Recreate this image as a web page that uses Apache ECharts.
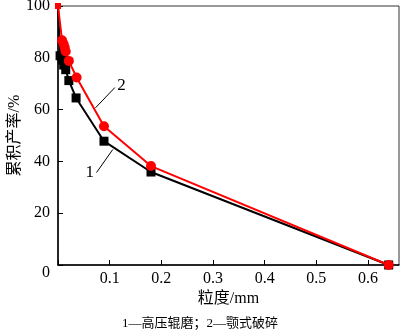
<!DOCTYPE html>
<html><head><meta charset="utf-8">
<script src="https://cdn.jsdelivr.net/npm/echarts@6/dist/echarts.min.js"></script>
<style>html,body{margin:0;padding:0;background:#fff}#c{width:400px;height:334px}</style>
</head><body><div id="c"></div>
<script>
// 1 — 高压辊磨 (black squares)
const sizes1 = [0, 0.004, 0.0085, 0.011, 0.015, 0.021, 0.035, 0.089, 0.180, 0.64];
const yield1 = [100, 80.8, 79.1, 77.2, 75.4, 71.2, 64.5, 47.8, 35.9, 0];
// 2 — 颚式破碎 (red circles)
const sizes2 = [0, 0.0078, 0.011, 0.013, 0.015, 0.021, 0.036, 0.089, 0.180, 0.64];
const yield2 = [100, 86.8, 85.3, 84.0, 82.4, 78.8, 72.4, 53.6, 38.2, 0];
const xTicks = [0, 0.1, 0.2, 0.3, 0.4, 0.5, 0.6];
const yTicks = [0, 20, 40, 60, 80, 100];
const xName = '粒度/mm';
const yName = '累积产率/%';
const caption = '1—高压辊磨；2—颚式破碎';
const labels = ['1', '2'];
const labelPos = [[0.0616, 35.8], [0.123, 69.3]];
const leader1 = [[0.0746, 35.7], [0.106, 44.6]];
const leader2 = [[0.110, 68.5], [0.0726, 60.7]];

const serif = '"Liberation Serif", "Noto Sans CJK SC", serif';
const chart = echarts.init(document.getElementById('c'));
const pair = (xs, ys, first) => xs.map((x, i) => (i === 0 ? Object.assign({ value: [x, ys[i]] }, first) : [x, ys[i]]));
chart.setOption({
  animation: false,
  title: { text: caption, left: 'center', top: 312, textStyle: { fontFamily: serif, fontSize: 13, fontWeight: 'normal', color: '#000' } },
  grid: { left: 58, top: 6, right: 1, bottom: 69, containLabel: false, outerBoundsMode: 'none',
    show: true, borderColor: '#333', borderWidth: 1 },
  xAxis: {
    type: 'value', min: 0, max: 0.66, interval: 0.1,
    name: xName, nameLocation: 'middle', nameGap: 26, nameMoveOverlap: false,
    nameTextStyle: { fontFamily: serif, fontSize: 16, color: '#000' },
    axisLine: { show: true, lineStyle: { color: '#000', width: 1.5 } },
    axisTick: { show: true, inside: true, length: 5, lineStyle: { color: '#000' } },
    axisLabel: { margin: 6, fontFamily: serif, fontSize: 16, color: '#000', showMaxLabel: false,
      formatter: v => (v === 0 ? '' : String(+v.toFixed(1))) },
    splitLine: { show: false }
  },
  yAxis: {
    type: 'value', min: 0, max: 100, interval: 20,
    name: yName, nameLocation: 'middle', nameGap: 35, nameMoveOverlap: false,
    nameTextStyle: { fontFamily: serif, fontSize: 16, color: '#000' },
    axisLine: { show: true, lineStyle: { color: '#000', width: 1.5 } },
    axisTick: { show: true, inside: true, length: 5, lineStyle: { color: '#000' } },
    axisLabel: { margin: 8, fontFamily: serif, fontSize: 16, color: '#000',
      formatter: v => (v === 0 ? '{z|0}' : String(v)),
      rich: { z: { fontFamily: serif, fontSize: 16, color: '#000', padding: [16, 0, 0, 0] } } },
    splitLine: { show: false }
  },
  series: [
    {
      type: 'line', data: pair(sizes1, yield1, { symbol: 'none' }), symbol: 'rect', symbolSize: 9,
      itemStyle: { color: '#000' }, lineStyle: { color: '#000', width: 2 },
      markLine: { silent: true, symbol: 'none', label: { show: false },
        lineStyle: { color: '#000', width: 1, type: 'solid' },
        data: [
          [{ coord: leader1[0] }, { coord: leader1[1] }],
          [{ coord: leader2[0] }, { coord: leader2[1] }]
        ] },
      markPoint: { symbol: 'circle', symbolSize: 1, itemStyle: { color: 'rgba(0,0,0,0)' },
        label: { show: true, position: 'inside', align: 'center', verticalAlign: 'middle', offset: [0, 0],
          fontFamily: serif, fontSize: 17, color: '#000', formatter: p => p.name },
        data: labels.map((t, i) => ({ name: t, coord: labelPos[i] })) }
    },
    {
      type: 'line', data: pair(sizes2, yield2, { symbol: 'rect', symbolSize: 6 }), symbol: 'circle', symbolSize: 10,
      itemStyle: { color: '#ff0000' }, lineStyle: { color: '#ff0000', width: 2 }
    }
  ]
});
</script></body></html>
